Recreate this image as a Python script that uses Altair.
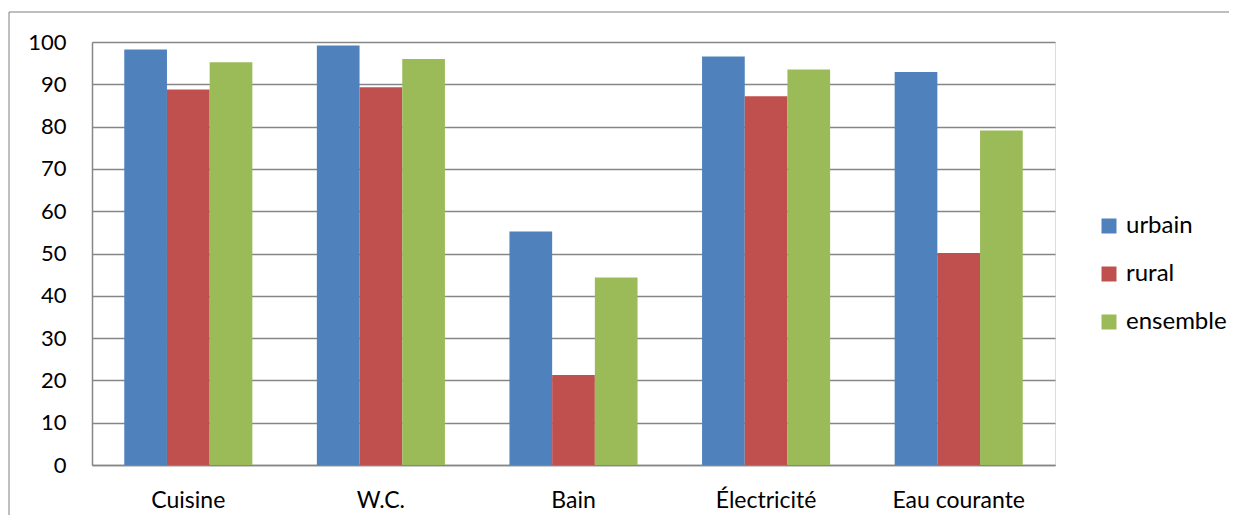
import altair as alt
import pandas as pd

categories = ["Cuisine", "W.C.", "Bain", "Électricité", "Eau courante"]
series = ["urbain", "rural", "ensemble"]
urbain = [98.2, 99.2, 55.2, 96.6, 92.9]
rural = [88.8, 89.3, 21.3, 87.2, 50.1]
ensemble = [95.2, 96.0, 44.3, 93.5, 79.1]
colors = ["#4F81BD", "#C0504D", "#9BBB59"]
y_ticks = [0, 10, 20, 30, 40, 50, 60, 70, 80, 90, 100]

rows = []
for s, vals in zip(series, [urbain, rural, ensemble]):
    for c, v in zip(categories, vals):
        rows.append({"cat": c, "serie": s, "val": v})
df = pd.DataFrame(rows)

FONT = "Lato"
GRID = "#868686"

bars = alt.Chart(df).mark_bar().encode(
    x=alt.X("cat:N", sort=categories,
            scale=alt.Scale(paddingInner=0.335, paddingOuter=0.1675),
            axis=alt.Axis(title=None, labelAngle=0, ticks=False, domainColor=GRID,
                          domainWidth=1.5, labelFontSize=23, labelFont=FONT,
                          labelColor="#000000", labelPadding=24)),
    xOffset=alt.XOffset("serie:N", sort=series, scale=alt.Scale(paddingInner=0, paddingOuter=0)),
    y=alt.Y("val:Q", scale=alt.Scale(domain=[0, 100], nice=False),
            axis=alt.Axis(title=None, values=y_ticks, ticks=False, domainColor=GRID,
                          domainWidth=1.5, grid=True, gridColor=GRID, gridWidth=1.5,
                          labelFontSize=22, labelFont=FONT, labelColor="#000000",
                          labelPadding=26)),
    color=alt.Color("serie:N", sort=series,
                    scale=alt.Scale(domain=series, range=colors),
                    legend=alt.Legend(title=None, orient="none", legendX=1005, legendY=172,
                                      symbolType="square", symbolSize=225,
                                      symbolStrokeWidth=0, labelFontSize=24,
                                      labelFont=FONT, labelColor="#000000",
                                      labelOffset=5, rowPadding=24)),
)

frame = alt.Chart(pd.DataFrame({"k": [0]})).mark_rect(
    fill=None, stroke="#7F7F7F", strokeWidth=1
).encode(
    x=alt.value(-83), x2=alt.value(1160), y=alt.value(-30), y2=alt.value(500)
)

chart = alt.layer(frame, bars).properties(
    width=963, height=423,
    autosize=alt.AutoSizeParams(type="none"),
    padding={"left": 84, "top": 34, "right": 174, "bottom": 50},
).configure_view(stroke=None).configure(background="#FFFFFF")

chart.save("out.html", embed_options={"renderer": "svg", "actions": False})
